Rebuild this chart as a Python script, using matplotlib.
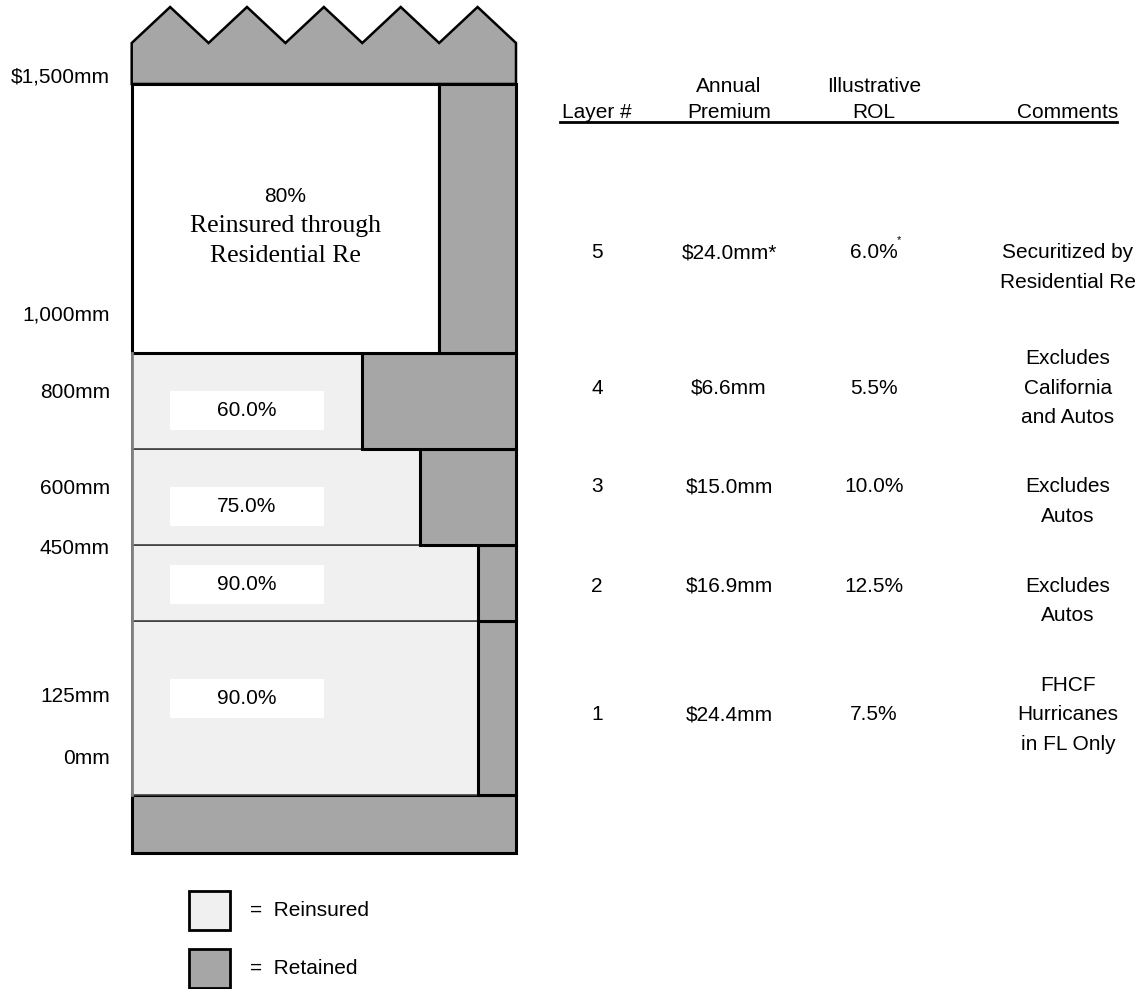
"""Reinsurance tower diagram: layers, shares placed, premium and ROL."""

import matplotlib
matplotlib.use("Agg")
import matplotlib.pyplot as plt
from matplotlib.patches import Rectangle, Polygon
import numpy as np

# --- data -------------------------------------------------------------
layer_ids = [1, 2, 3, 4, 5]
reinsured_share = [0.90, 0.90, 0.75, 0.60, 0.80]
annual_premium = [24.4, 16.9, 15.0, 6.6, 24.0]   # $mm
rol_pct = [7.5, 12.5, 10.0, 5.5, 6.0]
comments = [
    ["FHCF", "Hurricanes", "in FL Only"],
    ["Excludes", "Autos"],
    ["Excludes", "Autos"],
    ["Excludes", "California", "and Autos"],
    ["Securitized by", "Residential Re"],
]
footnoted = [False, False, False, False, True]
attachment_labels = ["0mm", "125mm", "450mm", "600mm", "800mm", "1,000mm", "$1,500mm"]
header_top = ["", "Annual", "Illustrative", ""]
header_bottom = ["Layer #", "Premium", "ROL", "Comments"]
top_layer_text = ["Reinsured through", "Residential Re"]

# --- layout (pixel space of the 1140x989 canvas) ----------------------
W, H = 1140, 989
SANS = "Liberation Sans"
SERIF = "Liberation Serif"
FS = 15
LIGHT = "#f0f0f0"
DARK = "#a6a6a6"

x0, x1 = 131.7, 516.0
layer_edges = [795, 621, 545, 449, 353, 84]        # bottom of layer 1 ... top of layer 5
band_top, band_bottom = 43, 7                       # zigzag base / peaks
floor_bottom = 853
label_y = [758, 697, 549, 488, 392, 315, 77]
label_box_y = [698, 584, 506, 410]
row_y = [715, 586, 487, 388, 253]
col_x = [597, 729, 874, 1068]
line_h = 29.5

fig = plt.figure(figsize=(W / 100, H / 100), dpi=100)
ax = fig.add_axes([0, 0, 1, 1])
ax.set_xlim(0, W)
ax.set_ylim(H, 0)
ax.axis("off")

# top zigzag band (retained above $1,500mm)
n_seg = 10
zx = np.linspace(x0, x1, n_seg + 1)
zy = [band_top if k % 2 == 0 else band_bottom for k in range(n_seg + 1)]
pts = [(x0, layer_edges[-1])] + list(zip(zx, zy)) + [(x1, layer_edges[-1])]
ax.add_patch(Polygon(pts, closed=True, facecolor=DARK, edgecolor="black", lw=1.8, zorder=2))

# bottom retention band
ax.add_patch(Rectangle((x0, layer_edges[0]), x1 - x0, floor_bottom - layer_edges[0],
                       facecolor=DARK, edgecolor="black", lw=2.2, zorder=2))

width = x1 - x0
for i, share in enumerate(reinsured_share):
    bottom, top = layer_edges[i], layer_edges[i + 1]
    split = x0 + share * width
    is_top = layer_ids[i] == 5
    if is_top:
        ax.add_patch(Rectangle((x0, top), split - x0, bottom - top,
                               facecolor="white", edgecolor="black", lw=2.2, zorder=3))
    else:
        ax.add_patch(Rectangle((x0, top), split - x0, bottom - top,
                               facecolor=LIGHT, edgecolor="#404040", lw=1.2, zorder=2))
    ax.add_patch(Rectangle((split, top), x1 - split, bottom - top,
                           facecolor=DARK, edgecolor="black", lw=2.2, zorder=3))
    if not is_top:
        by = label_box_y[i]
        ax.add_patch(Rectangle((170, by - 19.5), 154, 39, facecolor="white",
                               edgecolor="none", zorder=4))
        ax.text(247, by, f"{share * 100:.1f}%", family=SANS, fontsize=FS,
                ha="center", va="center", zorder=5)
    else:
        cx = (x0 + split) / 2
        ax.text(cx, 197, f"{share * 100:.0f}%", family=SANS, fontsize=FS,
                ha="center", va="center", zorder=5)
        for j, line in enumerate(top_layer_text):
            ax.text(cx, 226 + j * line_h, line, family=SERIF, fontsize=18.5,
                    ha="center", va="center", zorder=5)

# grey left edge of the reinsured layers
ax.plot([x0, x0], [layer_edges[0], layer_edges[4]], color="#808080", lw=2, zorder=4)

# attachment labels
for lab, y in zip(attachment_labels, label_y):
    ax.text(110, y, lab, family=SANS, fontsize=FS, ha="right", va="center")

# table header
for x, top, bot in zip(col_x, header_top, header_bottom):
    if top:
        ax.text(x, 86, top, family=SANS, fontsize=FS, ha="center", va="center")
    ax.text(x, 113, bot, family=SANS, fontsize=FS, ha="center", va="center")
ax.plot([560, 1117], [122, 122], color="black", lw=2)

# table rows
for i, lid in enumerate(layer_ids):
    y = row_y[i]
    star = "*" if footnoted[i] else ""
    ax.text(col_x[0], y, str(lid), family=SANS, fontsize=FS, ha="center", va="center")
    ax.text(col_x[1], y, f"${annual_premium[i]:.1f}mm{star}", family=SANS, fontsize=FS,
            ha="center", va="center")
    ax.text(col_x[2], y, f"{rol_pct[i]:.1f}%", family=SANS, fontsize=FS, ha="center", va="center")
    if footnoted[i]:
        ax.text(col_x[2] + 25, y - 13, "*", family=SANS, fontsize=8, ha="center", va="center")
    lines = comments[i]
    offset = 1 if len(lines) == 3 else 0
    for j, line in enumerate(lines):
        ax.text(col_x[3], y + (j - offset) * line_h, line, family=SANS, fontsize=FS,
                ha="center", va="center")

# legend
for (fc, lab), y in zip([(LIGHT, "Reinsured"), (DARK, "Retained")], [910.5, 968]):
    ax.add_patch(Rectangle((188.5, y - 19.5), 41, 39, facecolor=fc, edgecolor="black", lw=2))
    ax.text(250, y, f"=  {lab}", family=SANS, fontsize=FS, ha="left", va="center")

fig.savefig("out.png", dpi=100)
